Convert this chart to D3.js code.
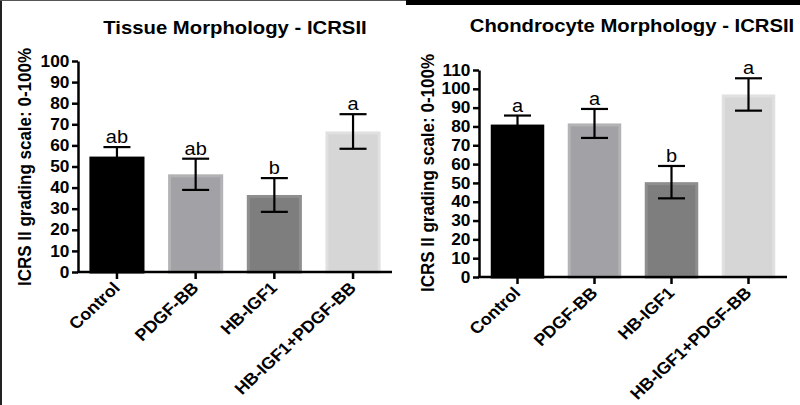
<!DOCTYPE html>
<html>
<head>
<meta charset="utf-8">
<script src="https://cdn.jsdelivr.net/npm/d3@7"></script>
<style>
  html, body { margin: 0; padding: 0; background: #fff; }
  svg { display: block; }
  text { font-family: "Liberation Sans", Arial, sans-serif; }
</style>
</head>
<body>
<svg id="chart" width="800" height="405"></svg>
<script>
// ---- data ----
const categories = ["Control", "PDGF-BB", "HB-IGF1", "HB-IGF1+PDGF-BB"];
const barFills = ["#000000", "#a2a2a6", "#7e7e7e", "#d6d6d6"];
const barEdges = ["#000000", "#b3b3b5", "#8e8e8e", "#e0e0e0"];

const tissueTitle = "Tissue Morphology - ICRSII";
const tissueMeans = [54.7, 46.3, 36.5, 66.6];
const tissueErrors = [4.5, 7.4, 8.0, 8.2];
const tissueLetters = ["ab", "ab", "b", "a"];
const tissueTicks = [0, 10, 20, 30, 40, 50, 60, 70, 80, 90, 100];

const chondroTitle = "Chondrocyte Morphology - ICRSII";
const chondroMeans = [81.0, 81.6, 50.4, 97.0];
const chondroErrors = [4.8, 7.7, 8.6, 8.6];
const chondroLetters = ["a", "a", "b", "a"];
const chondroTicks = [0, 10, 20, 30, 40, 50, 60, 70, 80, 90, 100, 110];

const yTitle = "ICRS II grading scale: 0-100%";

// ---- drawing ----
const svg = d3.select("#chart");
const SX = 1.08; // horizontal stretch of the original picture

// frame decorations
svg.append("rect").attr("x", 0).attr("y", 0).attr("width", 2).attr("height", 405).attr("fill", "#222");
svg.append("rect").attr("x", 0).attr("y", 0).attr("width", 406).attr("height", 1).attr("fill", "#555");
svg.append("rect").attr("x", 406).attr("y", 0).attr("width", 394).attr("height", 5).attr("fill", "#000");

function panel(cfg) {
  const g = svg.append("g");
  const y = d3.scaleLinear().domain(cfg.domain).range([cfg.y0, cfg.y1]);
  const x = d3.scaleBand().domain(categories).range([cfg.xa, cfg.xe])
    .paddingInner(cfg.pi).paddingOuter(cfg.po);

  // bars
  g.selectAll("rect.bar").data(categories).join("rect")
    .attr("class", "bar")
    .attr("x", d => x(d) + 1.5)
    .attr("width", x.bandwidth() - 3)
    .attr("y", (d, i) => y(cfg.means[i]) + 1.5)
    .attr("height", (d, i) => y(0) - y(cfg.means[i]) - 1.5)
    .attr("fill", (d, i) => barFills[i])
    .attr("stroke", (d, i) => barEdges[i])
    .attr("stroke-width", 3);

  // error bars
  const cap = 27;
  const eb = g.selectAll("g.err").data(categories).join("g").attr("class", "err");
  eb.append("line")
    .attr("x1", d => x(d) + x.bandwidth() / 2).attr("x2", d => x(d) + x.bandwidth() / 2)
    .attr("y1", (d, i) => y(cfg.means[i] - cfg.errs[i]))
    .attr("y2", (d, i) => y(cfg.means[i] + cfg.errs[i]))
    .attr("stroke", "#000").attr("stroke-width", 2.2);
  [1, -1].forEach(s => {
    eb.append("line")
      .attr("x1", d => x(d) + x.bandwidth() / 2 - cap / 2)
      .attr("x2", d => x(d) + x.bandwidth() / 2 + cap / 2)
      .attr("y1", (d, i) => y(cfg.means[i] + s * cfg.errs[i]))
      .attr("y2", (d, i) => y(cfg.means[i] + s * cfg.errs[i]))
      .attr("stroke", "#000").attr("stroke-width", 2.2);
  });

  // significance letters
  g.selectAll("text.sig").data(categories).join("text")
    .attr("class", "sig")
    .attr("transform", (d, i) => `translate(${x(d) + x.bandwidth() / 2},${y(cfg.means[i] + cfg.errs[i]) - 4}) scale(${SX},1)`)
    .attr("text-anchor", "middle")
    .attr("font-size", 18.5)
    .attr("fill", "#000")
    .text((d, i) => cfg.letters[i]);

  // y axis
  const ya = g.append("g").attr("transform", `translate(${cfg.xa},0)`)
    .call(d3.axisLeft(y).tickValues(cfg.ticks).tickSize(6).tickPadding(2).tickSizeOuter(0));
  ya.select(".domain").attr("stroke", "#000").attr("stroke-width", 2.5);
  ya.selectAll(".tick line").attr("stroke", "#000").attr("stroke-width", 2.5);
  ya.selectAll(".tick text")
    .attr("font-size", 16).attr("font-weight", "bold").attr("fill", "#000")
    .attr("font-family", "'Liberation Sans', Arial, sans-serif")
    .attr("transform", `scale(${SX},1)`);

  // x axis
  const xa = g.append("g").attr("transform", `translate(0,${cfg.y0})`)
    .call(d3.axisBottom(x).tickSize(7).tickSizeOuter(0).tickFormat(""));
  xa.select(".domain").attr("stroke", "#000").attr("stroke-width", 2.5)
    .attr("d", `M${cfg.xa - 1},0H${cfg.xe}`);
  xa.selectAll(".tick line").attr("stroke", "#000").attr("stroke-width", 2.5);

  // x labels
  g.selectAll("text.xl").data(categories).join("text")
    .attr("class", "xl")
    .attr("transform", d => `translate(${x(d) + x.bandwidth() / 2 + 4},${cfg.y0 + 17}) scale(${SX},1) rotate(-45)`)
    .attr("text-anchor", "end")
    .attr("font-size", 16.5).attr("font-weight", "bold").attr("fill", "#000")
    .text(d => d);

  // title
  g.append("text")
    .attr("transform", `translate(${cfg.tx},${cfg.ty}) scale(${SX},1)`)
    .attr("text-anchor", "middle")
    .attr("font-size", 18.8).attr("font-weight", "bold").attr("fill", "#000")
    .text(cfg.title);

  // y title
  g.append("text")
    .attr("transform", `translate(${cfg.ytx},${cfg.yty}) scale(${SX},1) rotate(-90)`)
    .attr("text-anchor", "middle")
    .attr("font-size", 17).attr("font-weight", "bold").attr("fill", "#000")
    .text(yTitle);
}

panel({
  domain: [0, 100], y0: 272, y1: 61, xa: 78, xe: 392, pi: 0.30, po: 0.145,
  means: tissueMeans, errs: tissueErrors, letters: tissueLetters, ticks: tissueTicks,
  title: tissueTitle, tx: 235, ty: 34, ytx: 31, yty: 167
});
panel({
  domain: [0, 110], y0: 277, y1: 70, xa: 479, xe: 787, pi: 0.305, po: 0.1525,
  means: chondroMeans, errs: chondroErrors, letters: chondroLetters, ticks: chondroTicks,
  title: chondroTitle, tx: 632, ty: 32, ytx: 434, yty: 173
});
</script>
</body>
</html>
